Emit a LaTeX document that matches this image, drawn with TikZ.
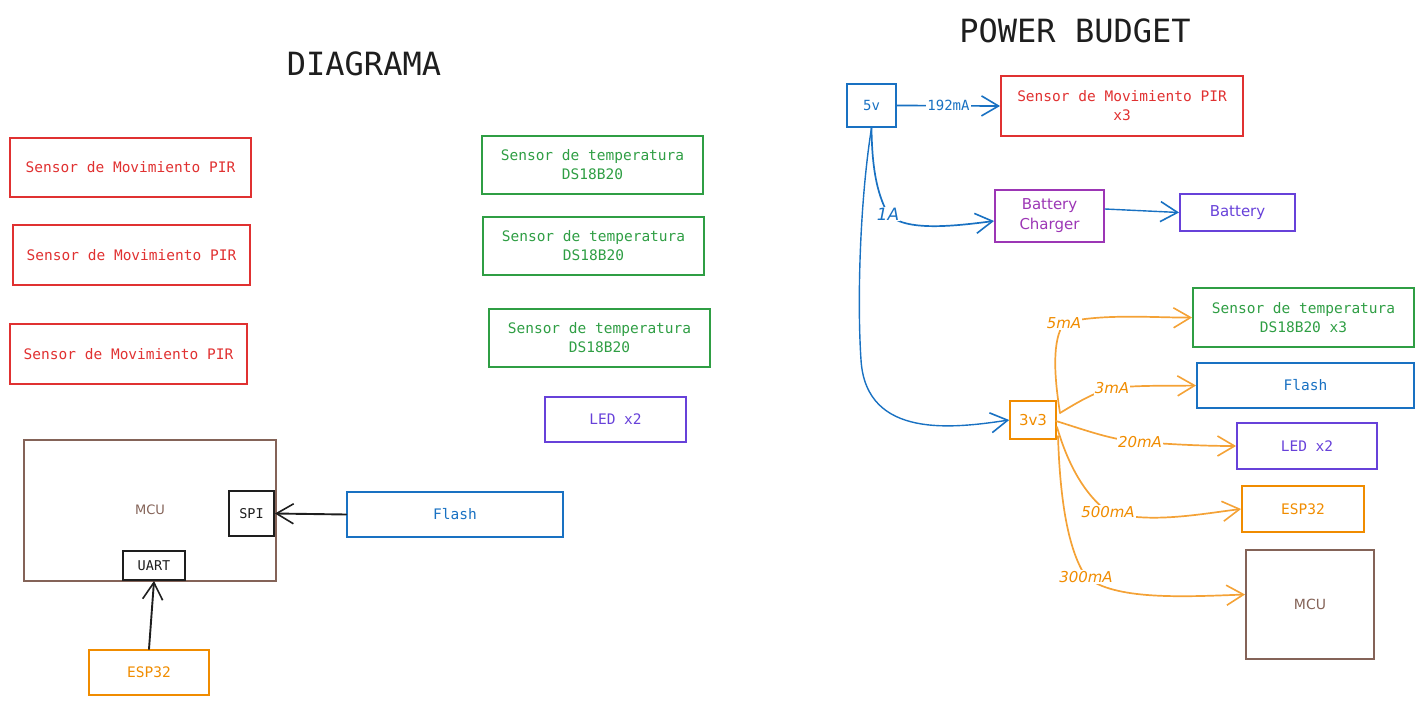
\documentclass[tikz,border=0pt]{standalone}
\usepackage{fontspec}
\setmonofont{DejaVu Sans Mono}
\newfontfamily\handfont{DejaVu Sans}
\usetikzlibrary{arrows.meta}
\definecolor{exred}{HTML}{E03131}
\definecolor{exgreen}{HTML}{2F9E44}
\definecolor{exblue}{HTML}{1971C2}
\definecolor{exviolet}{HTML}{6741D9}
\definecolor{exgrape}{HTML}{9C36B5}
\definecolor{exorange}{HTML}{F08C00}
\definecolor{exorline}{HTML}{F4A236}
\definecolor{exbrown}{HTML}{846358}
\definecolor{exblack}{HTML}{1E1E1E}
\begin{document}
\begin{tikzpicture}[x=1pt,y=-1pt,
  box/.style={draw, rectangle, line width=1.9pt, inner sep=0pt, align=center,
    font=\ttfamily\fontsize{14.5}{19}\selectfont},
  hbox/.style={box, font=\handfont\fontsize{15}{20}\selectfont},
  ttl/.style={font=\ttfamily\fontsize{32}{36}\selectfont, text=exblack},
  barb/.style={-{Straight Barb[length=17pt,width=20pt,line width=1.6pt]}},
  conn/.style={barb, line width=1.7pt, line cap=round},
  bluel/.style={conn, draw=exblue},
  orl/.style={conn, draw=exorline},
  blackl/.style={conn, draw=exblack, line width=1.9pt},
  lab/.style={fill=white, inner sep=1pt},
  curlab/.style={lab, text=exorange, font=\handfont\itshape\fontsize{15}{17}\selectfont}
]
\useasboundingbox (0,0) rectangle (1423,706);

% ---------- titles
\node[ttl] (t1) at (364,64) {DIAGRAMA};
\node[ttl] (t2) at (1075,31) {POWER BUDGET};

% ---------- left diagram
\node[box, draw=exred, text=exred, minimum width=241pt, minimum height=59pt] (pir1) at (130.5,167.5) {Sensor de Movimiento PIR};
\node[box, draw=exred, text=exred, minimum width=237pt, minimum height=60pt] (pir2) at (131.5,255) {Sensor de Movimiento PIR};
\node[box, draw=exred, text=exred, minimum width=237pt, minimum height=60pt] (pir3) at (128.5,354) {Sensor de Movimiento PIR};

\node[box, draw=exgreen, text=exgreen, minimum width=221pt, minimum height=58pt] (tmp1) at (592.5,165) {Sensor de temperatura\\DS18B20};
\node[box, draw=exgreen, text=exgreen, minimum width=221pt, minimum height=58pt] (tmp2) at (593.5,246) {Sensor de temperatura\\DS18B20};
\node[box, draw=exgreen, text=exgreen, minimum width=221pt, minimum height=58pt] (tmp3) at (599.5,338) {Sensor de temperatura\\DS18B20};
\node[box, draw=exviolet, text=exviolet, minimum width=141pt, minimum height=45pt] (led) at (615.5,419.5) {LED x2};

\node[box, draw=exbrown, line width=1.6pt, minimum width=252pt, minimum height=141pt] (mcu) at (150,510.5) {};
\node[text=exbrown, font=\handfont\fontsize{13}{15}\selectfont] (mcut) at (150,510) {MCU};
\node[box, draw=exblack, text=exblack, fill=white, minimum width=45pt, minimum height=45pt,
      font=\ttfamily\fontsize{13.5}{15}\selectfont] (spi) at (251.5,513.5) {SPI};
\node[box, draw=exblack, text=exblack, fill=white, minimum width=62pt, minimum height=29pt,
      font=\ttfamily\fontsize{13.5}{15}\selectfont] (uart) at (154,565.5) {UART};
\node[box, draw=exorange, text=exorange, minimum width=120pt, minimum height=45pt] (esp) at (149,672.5) {ESP32};
\node[box, draw=exblue, text=exblue, minimum width=216pt, minimum height=45pt] (flash) at (455,514.5) {Flash};

\draw[blackl] (flash.west) -- (spi.east);
\draw[blackl] (esp.north) -- (uart.south);

% ---------- power budget
\node[box, draw=exblue, text=exblue, minimum width=49pt, minimum height=43pt,
      font=\ttfamily\fontsize{14}{15}\selectfont] (v5) at (871.5,105.5) {5v};
\node[box, draw=exred, text=exred, minimum width=242pt, minimum height=60pt] (pirx) at (1122,106) {Sensor de Movimiento PIR\\x3};
\node[hbox, draw=exgrape, text=exgrape, minimum width=109pt, minimum height=52pt] (chg) at (1049.5,216) {Battery\\Charger};
\node[hbox, draw=exviolet, text=exviolet, minimum width=115pt, minimum height=37pt] (bat) at (1237.5,212.5) {Battery};
\node[hbox, draw=exorange, text=exorange, line width=1.6pt, minimum width=46pt, minimum height=38pt] (v33) at (1033,420) {3v3};
\node[box, draw=exgreen, text=exgreen, minimum width=221pt, minimum height=59pt] (tmpx) at (1303.5,317.5) {Sensor de temperatura\\DS18B20 x3};
\node[box, draw=exblue, text=exblue, minimum width=217pt, minimum height=45pt] (flash2) at (1305.5,385.5) {Flash};
\node[box, draw=exviolet, text=exviolet, minimum width=140pt, minimum height=46pt] (led2) at (1307,446) {LED x2};
\node[box, draw=exorange, text=exorange, minimum width=122pt, minimum height=46pt] (esp2) at (1303,509) {ESP32};
\node[hbox, draw=exbrown, text=exbrown, minimum width=128pt, minimum height=109pt,
      font=\handfont\fontsize{14}{15}\selectfont] (mcu2) at (1310,604.5) {MCU};

% blue connectors
\draw[bluel] (v5.east) -- node[lab, text=exblue, font=\ttfamily\fontsize{14}{15}\selectfont, pos=0.5] {192mA} (pirx.west);
\draw[bluel] (v5.south) .. controls (872,165) and (876,192) .. (888,214)
  node[lab, text=exblue, font=\handfont\itshape\fontsize{17}{19}\selectfont] {1A}
  .. controls (905,232) and (955,226) .. ([yshift=-5pt]chg.west);
\draw[bluel, line width=1.4pt] (v5.south) .. controls (860,200) and (857,300) .. (861,360)
  .. controls (866,440) and (955,428) .. (v33.west);
\draw[bluel, line width=1.4pt] ([yshift=7pt]chg.east) -- (bat.west);

% orange connectors
\coordinate (o1) at (1060,413);
\coordinate (o2) at (1056,421);
\coordinate (o3) at (1057,427);
\coordinate (o4) at (1058,436);
\draw[orl] (o1) .. controls (1054,375) and (1052,340) .. (1064,323)
  node[curlab] {5mA}
  .. controls (1100,313) and (1160,318) .. (tmpx.west);
\draw[orl] (o1) .. controls (1078,402) and (1095,392) .. (1112,388)
  node[curlab] {3mA}
  .. controls (1140,385) and (1170,386) .. (flash2.west);
\draw[orl] (o2) .. controls (1088,431) and (1112,440) .. (1140,442)
  node[curlab] {20mA}
  .. controls (1180,445) and (1210,446) .. (led2.west);
\draw[orl] (o3) .. controls (1068,465) and (1085,495) .. (1108,512)
  node[curlab] {500mA}
  .. controls (1150,524) and (1200,514) .. (esp2.west);
\draw[orl] (o4) .. controls (1060,500) and (1068,550) .. (1086,577)
  node[curlab] {300mA}
  .. controls (1115,600) and (1180,597) .. ([yshift=10pt]mcu2.west);
\end{tikzpicture}
\end{document}
